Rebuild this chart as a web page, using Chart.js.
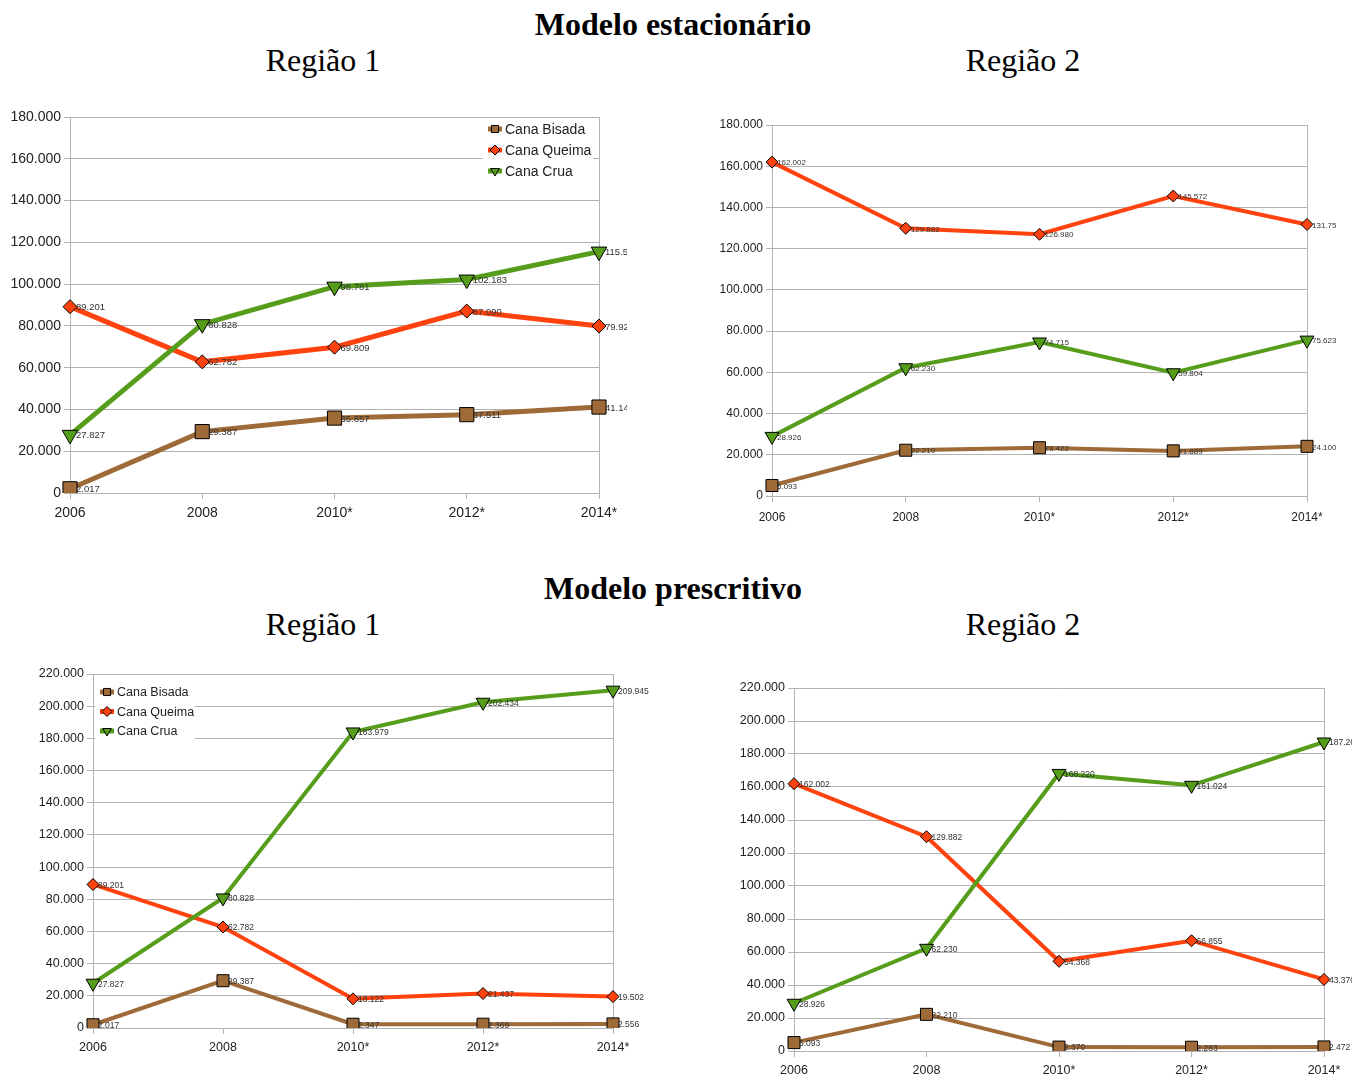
<!DOCTYPE html>
<html>
<head>
<meta charset="utf-8">
<script src="https://cdn.jsdelivr.net/npm/chart.js@4/dist/chart.umd.min.js"></script>
<style>
  body { margin: 0; background: #fff; width: 1352px; height: 1077px; position: relative; overflow: hidden; }
  .t { position: absolute; font-family: "Liberation Serif", "Times New Roman", serif; font-size: 32px; color: #000;
       transform: translate(-50%, -50%); white-space: nowrap; }
  .b { font-weight: bold; }
  canvas { position: absolute; }
</style>
</head>
<body>
<div class="t b" style="left:673px; top:24px;">Modelo estacionário</div>
<div class="t" style="left:323px; top:60px;">Região 1</div>
<div class="t" style="left:1023px; top:60px;">Região 2</div>
<div class="t b" style="left:673px; top:588px;">Modelo prescritivo</div>
<div class="t" style="left:323px; top:624px;">Região 1</div>
<div class="t" style="left:1023px; top:624px;">Região 2</div>

<canvas id="c1" width="627" height="418" style="left:0px; top:105px;"></canvas>
<canvas id="c2" width="624" height="413" style="left:712px; top:113px;"></canvas>
<canvas id="c3" width="627" height="396" style="left:33px; top:662px;"></canvas>
<canvas id="c4" width="618" height="401" style="left:734px; top:676px;"></canvas>

<script>
const years = ["2006", "2008", "2010*", "2012*", "2014*"];
const seriesNames = ["Cana Bisada", "Cana Queima", "Cana Crua"];
const seriesColors = ["#9e6a38", "#ff420e", "#579d1c"];

// Modelo estacionário
const estR1Bisada = [2017, 29387, 35857, 37511, 41140];
const estR1Queima = [89201, 62782, 69809, 87090, 79920];
const estR1Crua = [27827, 80828, 98781, 102183, 115560];

const estR2Bisada = [5093, 22210, 23422, 21889, 24100];
const estR2Queima = [162002, 129882, 126980, 145572, 131750];
const estR2Crua = [28926, 62230, 74715, 59804, 75623];

// Modelo prescritivo
const preR1Bisada = [2017, 29387, 2347, 2369, 2556];
const preR1Queima = [89201, 62782, 18122, 21437, 19502];
const preR1Crua = [27827, 80828, 183979, 202434, 209945];

const preR2Bisada = [5093, 22210, 2370, 2283, 2472];
const preR2Queima = [162002, 129882, 54368, 66855, 43370];
const preR2Crua = [28926, 62230, 168220, 161024, 187260];

Chart.defaults.font.family = "'Liberation Sans', Arial, sans-serif";
Chart.defaults.color = "#222";

function fmt(v) {
  return String(Math.round(v)).replace(/\B(?=(\d{3})+(?!\d))/g, ".");
}

// value labels next to each point
const pointLabels = {
  id: "pointLabels",
  afterDatasetsDraw(chart, args, opts) {
    const ctx = chart.ctx;
    ctx.save();
    ctx.font = opts.size + "px 'Liberation Sans', Arial, sans-serif";
    ctx.fillStyle = "#333";
    ctx.textBaseline = "middle";
    chart.data.datasets.forEach((ds, i) => {
      chart.getDatasetMeta(i).data.forEach((pt, j) => {
        ctx.fillText(fmt(ds.data[j]), pt.x + opts.dx, pt.y + 1);
      });
    });
    ctx.restore();
  }
};

// legend with white background inside the plot
const boxLegend = {
  id: "boxLegend",
  afterDraw(chart, args, opts) {
    if (!opts.show) return;
    const ctx = chart.ctx;
    ctx.save();
    ctx.fillStyle = "#fff";
    ctx.fillRect(opts.bx, opts.by, opts.bw, opts.bh);
    ctx.font = opts.size + "px 'Liberation Sans', Arial, sans-serif";
    ctx.textBaseline = "middle";
    chart.data.datasets.forEach((ds, i) => {
      const y = opts.y + i * opts.gap;
      ctx.strokeStyle = ds.borderColor;
      ctx.lineWidth = 5;
      ctx.beginPath();
      ctx.moveTo(opts.x, y);
      ctx.lineTo(opts.x + 14, y);
      ctx.stroke();
      ctx.fillStyle = ds.borderColor;
      ctx.strokeStyle = "#000";
      ctx.lineWidth = 1;
      Chart.helpers.drawPoint(ctx, { pointStyle: ds.pointStyle, rotation: ds.pointRotation || 0, radius: 5, borderWidth: 1 }, opts.x + 7, y);
      ctx.fillStyle = "#222";
      ctx.fillText(ds.label, opts.x + 17, y + 1);
    });
    ctx.restore();
  }
};

function makeChart(id, bisada, queima, crua, o) {
  const series = [bisada, queima, crua];
  const styles = ["rect", "rectRot", "triangle"];
  const radii = o.radii;
  const datasets = series.map((vals, i) => ({
    label: seriesNames[i],
    data: vals,
    borderColor: seriesColors[i],
    backgroundColor: seriesColors[i],
    borderWidth: o.lw,
    pointStyle: styles[i],
    pointRotation: i === 2 ? 180 : 0,
    pointRadius: radii[i],
    pointBorderColor: "#000",
    pointBorderWidth: 1,
    order: 2 - i,
    tension: 0
  }));
  return new Chart(document.getElementById(id), {
    type: "line",
    data: { labels: years, datasets: datasets },
    plugins: [pointLabels, boxLegend],
    options: {
      responsive: false,
      animation: false,
      devicePixelRatio: 1,
      layout: { padding: { left: 0, top: 12, right: o.padRight, bottom: 0 } },
      plugins: {
        legend: { display: false },
        tooltip: { enabled: false },
        pointLabels: { size: o.labelSize, dx: o.dx },
        boxLegend: o.legend || { show: false }
      },
      scales: {
        x: {
          offset: false,
          grid: {
            color: (c) => (c.index === 0 || c.index === years.length - 1 ? "#b3b3b3" : "rgba(0,0,0,0)"),
            tickColor: "#b3b3b3",
            tickLength: 6,
            lineWidth: 1
          },
          border: { color: "#b3b3b3" },
          ticks: { font: { size: o.tickSize }, color: "#222", padding: o.xPad, maxRotation: 0, autoSkip: false },
          afterFit: (s) => { s.height = o.xHeight; }
        },
        y: {
          min: 0,
          max: o.max,
          grid: { color: "#b3b3b3", tickColor: "#b3b3b3", tickLength: 6 },
          border: { color: "#b3b3b3" },
          ticks: { stepSize: 20000, font: { size: o.tickSize }, color: "#222", padding: 3, callback: (v) => fmt(v) },
          afterFit: (s) => { s.width = o.yWidth; }
        }
      }
    }
  });
}

makeChart("c1", estR1Bisada, estR1Queima, estR1Crua, {
  max: 180000, lw: 5, radii: [10, 7, 9], tickSize: 14, labelSize: 9.5, dx: 6,
  yWidth: 70, xHeight: 30, xPad: 6, padRight: 28,
  legend: { show: true, bx: 483, by: 14, bw: 110, bh: 64, x: 488, y: 24, gap: 21, size: 14 }
});
makeChart("c2", estR2Bisada, estR2Queima, estR2Crua, {
  max: 180000, lw: 4, radii: [8.5, 6, 8], tickSize: 12, labelSize: 8, dx: 5,
  yWidth: 60, xHeight: 30, xPad: 8, padRight: 29
});
makeChart("c3", preR1Bisada, preR1Queima, preR1Crua, {
  max: 220000, lw: 4, radii: [8.5, 6, 8], tickSize: 12.5, labelSize: 8.5, dx: 5,
  yWidth: 60, xHeight: 30, xPad: 6, padRight: 47,
  legend: { show: true, bx: 62, by: 20, bw: 100, bh: 60, x: 67, y: 30, gap: 19.5, size: 12.5 }
});
makeChart("c4", preR2Bisada, preR2Queima, preR2Crua, {
  max: 220000, lw: 4, radii: [8.5, 6, 8], tickSize: 12.5, labelSize: 8.5, dx: 5,
  yWidth: 60, xHeight: 26, xPad: 6, padRight: 28
});
</script>
</body>
</html>
